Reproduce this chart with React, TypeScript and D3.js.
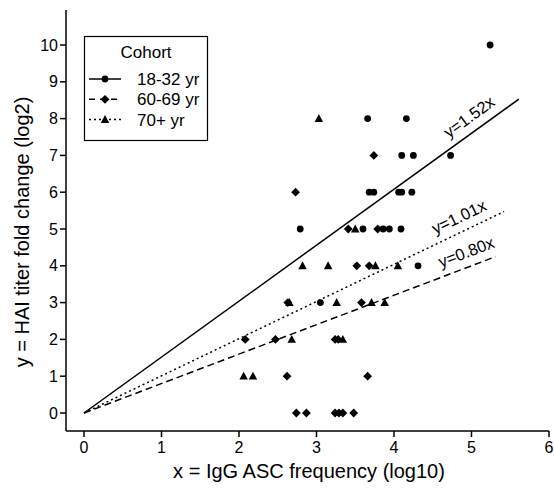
import React from "react";
import * as d3 from "d3";

const cohorts = ["18-32 yr", "60-69 yr", "70+ yr"];
const young: [number, number][] = [
  [5.24, 10], [3.66, 8], [4.16, 8], [4.1, 7], [4.25, 7], [4.73, 7],
  [3.68, 6], [3.74, 6], [4.06, 6], [4.1, 6], [4.23, 6],
  [2.79, 5], [3.6, 5], [3.86, 5], [3.94, 5], [4.09, 5],
  [4.31, 4], [3.05, 3],
];
const middle: [number, number][] = [
  [3.74, 7], [2.73, 6], [3.41, 5], [3.79, 5], [3.52, 4], [3.68, 4],
  [2.63, 3], [3.58, 3], [2.08, 2], [2.47, 2], [3.24, 2], [3.28, 2],
  [2.62, 1], [3.66, 1], [2.74, 0], [2.87, 0], [3.24, 0], [3.29, 0], [3.34, 0], [3.48, 0],
];
const old: [number, number][] = [
  [3.03, 8], [3.5, 5], [2.82, 4], [3.15, 4], [3.76, 4], [4.05, 4],
  [2.65, 3], [3.26, 3], [3.71, 3], [3.88, 3], [2.68, 2], [3.34, 2],
  [2.06, 1], [2.18, 1],
];
const slopes = [1.52, 1.01, 0.8];
const slopeLabels = ["y=1.52x", "y=1.01x", "y=0.80x"];
const lineEnds = [5.61, 5.42, 5.31];
const labelAt = [5.08, 4.92, 5.0];
const xTicks = [0, 1, 2, 3, 4, 5, 6];
const yTicks = [0, 1, 2, 3, 4, 5, 6, 7, 8, 9, 10];

const FONT = "'Liberation Sans', Arial, Helvetica, sans-serif";
const dashes = ["", "2,3", "7,4"];

function Marker({ kind, cx, cy }: { kind: number; cx: number; cy: number }) {
  if (kind === 0) return <circle cx={cx} cy={cy} r={3.4} fill="#000" />;
  if (kind === 1) {
    const s = 4.4;
    return <path d={`M${cx},${cy - s}L${cx + s},${cy}L${cx},${cy + s}L${cx - s},${cy}Z`} fill="#000" />;
  }
  const h = 7.5, w = 8.5;
  return <path d={`M${cx},${cy - h * 0.6}L${cx + w / 2},${cy + h * 0.45}L${cx - w / 2},${cy + h * 0.45}Z`} fill="#000" />;
}

export default function App() {
  const x = d3.scaleLinear().domain([0, 6]).range([84, 549]);
  const y = d3.scaleLinear().domain([0, 10]).range([413, 45]);
  const axisX = 66;
  const axisY = 431;
  const series = [young, middle, old];
  const pxPerX = x(1) - x(0);
  const pxPerY = y(0) - y(1);
  return (
    <svg width={554} height={490} style={{ position: "absolute", left: 0, top: 0, background: "#fff" }} fontFamily={FONT}>
      {slopes.map((s, i) => (
        <line key={i} x1={x(0)} y1={y(0)} x2={x(lineEnds[i])} y2={y(s * lineEnds[i])}
          stroke="#000" strokeWidth={1.5} strokeDasharray={dashes[i]} />
      ))}
      {slopes.map((s, i) => {
        const ang = (-Math.atan((s * pxPerY) / pxPerX) * 180) / Math.PI;
        const px = x(labelAt[i]);
        const py = y(s * labelAt[i]);
        return (
          <text key={i} transform={`translate(${px},${py}) rotate(${ang})`} dy={-9}
            textAnchor="middle" fontSize={16.5}>{slopeLabels[i]}</text>
        );
      })}
      {series.map((pts, k) =>
        pts.map((p, j) => <Marker key={`${k}-${j}`} kind={k} cx={x(p[0])} cy={y(p[1])} />)
      )}
      <line x1={axisX} y1={10} x2={axisX} y2={axisY} stroke="#000" strokeWidth={1.5} />
      <line x1={axisX} y1={axisY} x2={x(6)} y2={axisY} stroke="#000" strokeWidth={1.5} />
      {yTicks.map((t) => (
        <g key={t}>
          <line x1={axisX - 6} x2={axisX} y1={y(t)} y2={y(t)} stroke="#000" strokeWidth={1.5} />
          <text x={axisX - 8} y={y(t)} dy="0.35em" textAnchor="end" fontSize={16}>{t}</text>
        </g>
      ))}
      {xTicks.map((t) => (
        <g key={t}>
          <line x1={x(t)} x2={x(t)} y1={axisY} y2={axisY + 6} stroke="#000" strokeWidth={1.5} />
          <text x={x(t)} y={axisY + 22} textAnchor="middle" fontSize={16}>{t}</text>
        </g>
      ))}
      <text x={309} y={478} textAnchor="middle" fontSize={20}>x = IgG ASC frequency (log10)</text>
      <text transform={`translate(29,232) rotate(-90)`} textAnchor="middle" fontSize={20}>y = HAI titer fold change (log2)</text>
      <rect x={84.5} y={36.5} width={123} height={104} fill="#fff" stroke="#000" strokeWidth={1.2} />
      <text x={146} y={58} textAnchor="middle" fontSize={17}>Cohort</text>
      {cohorts.map((c, i) => {
        const ly = 79 + i * 20.3;
        return (
          <g key={c}>
            <line x1={89} x2={121} y1={ly} y2={ly} stroke="#000" strokeWidth={1.5} strokeDasharray={i === 0 ? "" : i === 1 ? "6,5" : "2,3"} />
            <Marker kind={i} cx={105} cy={ly} />
            <text x={137} y={ly} dy="0.35em" fontSize={17}>{c}</text>
          </g>
        );
      })}
    </svg>
  );
}
